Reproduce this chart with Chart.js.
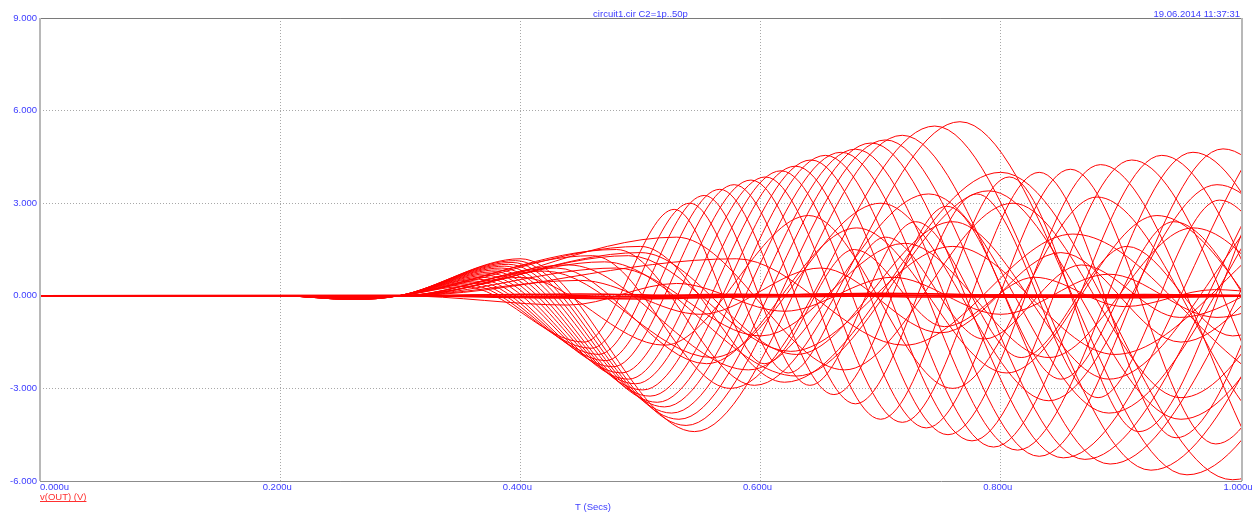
<!DOCTYPE html>
<html>
<head>
<meta charset="utf-8">
<script src="https://cdn.jsdelivr.net/npm/chart.js@4.4.0/dist/chart.umd.min.js"></script>
<style>
  body { margin: 0; background: #fff; }
  canvas { display: block; }
</style>
</head>
<body>
<canvas id="canvas" width="1257" height="513"></canvas>
<script>
// v(OUT) transient sweep, C2 = 1p..50p, values as [T (us), V]
const curveA00 = [[0,0],[0.2,0],[0.26,-0.03],[0.3,0.01],[0.353,0.30],[0.453,-1.5],[0.528,2.8],[0.603,-2.2],[0.678,1.5],[0.753,-1.0],[0.828,0.6],[0.903,-0.35],[0.978,0.2],[1.053,-0.1]]
const curveA01 = [[0,0],[0.2,0],[0.26,-0.04],[0.3,0.01],[0.356,0.36],[0.459,-1.7],[0.541,3.0],[0.623,-2.5],[0.704,1.9],[0.786,-1.4],[0.867,1.0],[0.949,-0.7],[1.030,0.5]]
const curveA02 = [[0,0],[0.2,0],[0.26,-0.05],[0.3,0.01],[0.359,0.42],[0.465,-1.9],[0.553,3.25],[0.641,-2.9],[0.729,2.4],[0.817,-2.0],[0.905,1.6],[0.993,-1.3],[1.081,1.0]]
const curveA03 = [[0,0],[0.2,0],[0.26,-0.06],[0.3,0.01],[0.362,0.48],[0.471,-2.1],[0.566,3.45],[0.661,-3.2],[0.755,2.9],[0.850,-2.7],[0.944,2.4],[1.039,-2.2]]
const curveA04 = [[0,0],[0.2,0],[0.26,-0.07],[0.3,0.01],[0.365,0.54],[0.477,-2.3],[0.578,3.6],[0.679,-3.5],[0.780,3.3],[0.881,-3.3],[0.982,3.1],[1.083,-3.0]]
const curveA05 = [[0,0],[0.2,0],[0.26,-0.08],[0.3,0.01],[0.369,0.60],[0.484,-2.5],[0.592,3.75],[0.700,-4.0],[0.807,3.85],[0.915,-4.4],[1.022,3.95]]
const curveA06 = [[0,0],[0.2,0],[0.26,-0.09],[0.3,0.01],[0.372,0.66],[0.490,-2.7],[0.604,3.85],[0.718,-4.1],[0.832,4.0],[0.946,-4.6],[1.060,4.1]]
const curveA07 = [[0,0],[0.2,0],[0.26,-0.10],[0.3,0.01],[0.375,0.72],[0.496,-2.85],[0.617,4.05],[0.738,-4.28],[0.858,4.1],[0.979,-4.8],[1.099,4.3]]
const curveA08 = [[0,0],[0.2,0],[0.26,-0.10],[0.3,0.01],[0.378,0.78],[0.502,-3.05],[0.629,4.2],[0.756,-4.5],[0.883,4.25],[1.010,-5.0]]
const curveA09 = [[0,0],[0.2,0],[0.26,-0.11],[0.3,0.01],[0.381,0.84],[0.508,-3.25],[0.642,4.4],[0.776,-4.7],[0.909,4.4],[1.043,-5.2]]
const curveA10 = [[0,0],[0.2,0],[0.26,-0.11],[0.3,0.01],[0.384,0.90],[0.514,-3.45],[0.654,4.55],[0.794,-4.9],[0.934,4.55],[1.074,-5.3]]
const curveA11 = [[0,0],[0.2,0],[0.26,-0.12],[0.3,0.01],[0.387,0.96],[0.520,-3.6],[0.667,4.65],[0.814,-5.0],[0.960,4.65],[1.107,-5.4]]
const curveA12 = [[0,0],[0.2,0],[0.26,-0.12],[0.3,0.01],[0.390,1.02],[0.526,-3.8],[0.679,4.75],[0.832,-5.2],[0.985,4.76],[1.138,-5.5]]
const curveA13 = [[0,0],[0.2,0],[0.26,-0.12],[0.3,0.01],[0.393,1.08],[0.532,-4.0],[0.692,4.95],[0.852,-5.25],[1.011,4.8]]
const curveA14 = [[0,0],[0.2,0],[0.26,-0.12],[0.3,0.01],[0.396,1.14],[0.538,-4.2],[0.704,5.05],[0.870,-5.3],[1.036,4.8]]
const curveA15 = [[0,0],[0.2,0],[0.26,-0.12],[0.3,0.01],[0.400,1.20],[0.545,-4.4],[0.718,5.2],[0.891,-5.45],[1.063,4.8]]
const curveA16 = [[0,0],[0.2,0],[0.26,-0.10],[0.3,0.01],[0.460,1.30],[0.575,-3.0],[0.745,5.5],[0.925,-5.65],[1.100,4.8]]
const curveA17 = [[0,0],[0.2,0],[0.26,-0.08],[0.3,0.01],[0.480,1.50],[0.595,-2.9],[0.766,5.64],[0.955,-5.8],[1.140,4.8]]
const curveA18 = [[0,0],[0.2,0],[0.26,-0.06],[0.3,0.01],[0.500,1.60],[0.620,-2.8],[0.800,4.0],[0.993,-5.96],[1.180,4.5]]

const curveB0 = [[0,0],[0.3,0],[0.45,0.5],[0.55,-0.6],[0.65,0.9],[0.75,-1.2],[0.85,1.4],[0.95,-1.5],[1.05,1.6]]
const curveB1 = [[0,0],[0.3,0],[0.48,0.9],[0.60,-1.3],[0.72,1.7],[0.84,-2.0],[0.96,2.2],[1.08,-2.3]]
const curveB2 = [[0,0],[0.3,0],[0.50,1.4],[0.63,-1.9],[0.76,2.4],[0.89,-2.7],[1.02,2.9]]
const curveB3 = [[0,0],[0.3,0],[0.53,1.9],[0.67,-2.4],[0.81,3.0],[0.95,-3.3],[1.09,3.4]]
const curveB4 = [[0,0],[0.3,0],[0.44,-0.3],[0.53,0.4],[0.62,-0.5],[0.71,0.6],[0.80,-0.6],[0.89,0.7],[0.98,-0.7],[1.07,0.7]]
const curveB5 = [[0,0],[0.3,0],[0.58,1.2],[0.72,-1.6],[0.86,2.0],[1.00,-2.2]]

const curveC0 = [[0,0],[0.3,0],[0.42,0.8],[0.56,-2.0],[0.70,3.0],[0.84,-3.4],[0.98,3.6],[1.12,-3.7]]
const curveC1 = [[0,0],[0.3,0],[0.44,1.0],[0.59,-2.4],[0.74,3.3],[0.89,-3.8],[1.04,4.0]]
const curveC2 = [[0,0],[0.3,0],[0.40,0.6],[0.52,-1.6],[0.64,2.6],[0.76,-3.0],[0.88,3.2],[1.00,-3.4]]
const curveC3 = [[0,0],[0.3,0],[0.47,1.1],[0.63,-2.6],[0.79,3.4],[0.95,-4.0],[1.11,4.2]]
const curveC4 = [[0,0],[0.3,0],[0.43,0.9],[0.555,-2.2],[0.68,2.2],[0.805,-2.5],[0.93,2.6],[1.055,-2.7]]
const curveC5 = [[0,0],[0.3,0],[0.49,1.3],[0.625,-1.8],[0.76,1.6],[0.895,-1.9],[1.03,2.0]]

const curveN0 = [[0,0],[0.3,0],[0.45,0.06],[0.6,-0.04],[0.8,0.03],[1.0,0]]
const curveN1 = [[0,0],[0.3,0],[0.42,-0.06],[0.58,0.05],[0.75,-0.04],[0.92,0.04],[1.05,0]]
const curveN2 = [[0,0],[0.3,0.02],[0.5,-0.1],[0.7,0.08],[0.9,-0.06],[1.05,0.05]]
const curveN3 = [[0,0],[0.3,0],[0.4,0.04],[0.52,-0.05],[0.66,0.06],[0.82,-0.05],[0.98,0.04]]
const curveN4 = [[0,0],[0.3,0],[0.47,-0.03],[0.63,0.03],[0.79,0.01],[0.95,-0.03],[1.05,0]]

const sweepCurves = [curveA00, curveA01, curveA02, curveA03, curveA04, curveA05, curveA06, curveA07,
  curveA08, curveA09, curveA10, curveA11, curveA12, curveA13, curveA14, curveA15, curveA16, curveA17,
  curveA18, curveB0, curveB1, curveB2, curveB3, curveB4, curveB5,
  curveC0, curveC1, curveC2, curveC3, curveC4, curveC5]
const flatCurves = [curveN0, curveN1, curveN2, curveN3, curveN4]

const xTicks = [0, 0.2, 0.4, 0.6, 0.8, 1.0]
const yMin = -6, yMax = 9, yStep = 3

const blue = '#3c3cff'
const font = '"Liberation Sans", Arial, sans-serif'

const frameAndText = {
  id: 'frameAndText',
  afterDraw(chart) {
    const { ctx, chartArea: a, scales } = chart
    ctx.save()
    // plot frame
    ctx.strokeStyle = '#7a7a7a'
    ctx.lineWidth = 1
    ctx.beginPath()
    ctx.moveTo(a.left, a.top + 0.5); ctx.lineTo(a.right, a.top + 0.5)
    ctx.stroke()
    ctx.strokeStyle = '#8c8c8c'
    ctx.beginPath()
    ctx.moveTo(a.left, a.bottom + 0.5); ctx.lineTo(a.right + 1, a.bottom + 0.5)
    ctx.stroke()
    ctx.strokeStyle = '#b8b8b8'
    ctx.lineWidth = 2
    ctx.beginPath()
    ctx.moveTo(a.left, a.top); ctx.lineTo(a.left, a.bottom)
    ctx.moveTo(a.right + 1, a.top); ctx.lineTo(a.right + 1, a.bottom)
    ctx.stroke()

    // x tick labels
    ctx.font = '9.5px ' + font
    ctx.fillStyle = blue
    ctx.textBaseline = 'middle'
    xTicks.forEach((t, i) => {
      const px = scales.x.getPixelForValue(t)
      ctx.textAlign = i === 0 ? 'left' : 'center'
      ctx.fillText(t.toFixed(3) + 'u', i === 0 ? px : px - 3, a.bottom + 6)
    })

    // titles
    ctx.textAlign = 'center'
    ctx.fillText('circuit1.cir C2=1p..50p', (a.left + a.right) / 2, 14)
    ctx.fillText('T (Secs)', 593, 507)
    ctx.textAlign = 'right'
    ctx.fillText('19.06.2014 11:37:31', a.right - 1, 14)

    ctx.textAlign = 'left'
    ctx.fillStyle = '#ff3030'
    ctx.fillText('v(OUT) (V)', a.left, 497)
    const w = ctx.measureText('v(OUT) (V)').width
    ctx.fillRect(a.left, 501, w, 1)
    ctx.restore()
  }
}

const toDataset = (c, width) => ({
  data: c.map(p => ({ x: p[0], y: p[1] })),
  borderColor: '#ff0000',
  borderWidth: width,
  pointRadius: 0,
  cubicInterpolationMode: 'monotone',
  fill: false
})

new Chart(document.getElementById('canvas'), {
  type: 'line',
  data: {
    datasets: sweepCurves.map(c => toDataset(c, 1)).concat(flatCurves.map(c => toDataset(c, 1.5)))
  },
  options: {
    responsive: false,
    animation: false,
    events: [],
    layout: { padding: { top: 18, right: 16, left: 0, bottom: 0 } },
    plugins: { legend: { display: false }, tooltip: { enabled: false } },
    scales: {
      x: {
        type: 'linear',
        min: 0,
        max: 1,
        afterFit: s => { s.height = 32 },
        afterBuildTicks: s => { s.ticks = xTicks.map(v => ({ value: v })) },
        ticks: { display: false },
        grid: { color: '#a8a8a8', lineWidth: 1, drawTicks: false },
        border: { display: false, dash: [1, 2] }
      },
      y: {
        min: yMin,
        max: yMax,
        afterFit: s => { s.width = 40 },
        ticks: {
          stepSize: yStep,
          padding: 3,
          color: blue,
          font: { family: font, size: 9.5 },
          callback: v => v.toFixed(3)
        },
        grid: { color: '#a8a8a8', lineWidth: 1, drawTicks: false },
        border: { display: false, dash: [1, 2] }
      }
    }
  },
  plugins: [frameAndText]
})
</script>
</body>
</html>
